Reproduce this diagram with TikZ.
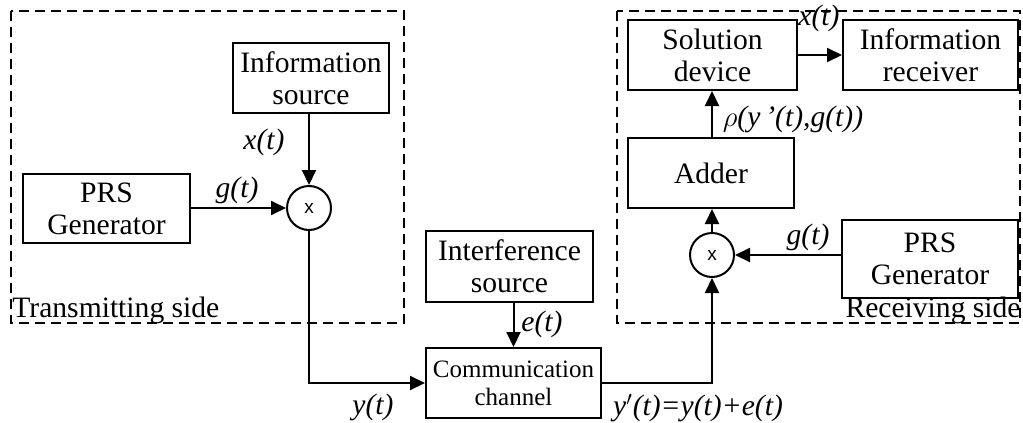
\documentclass[tikz,border=0pt]{standalone}
\usepackage{fontspec}
\setmainfont{Liberation Serif}
\newfontfamily\arialf{Liberation Sans}
\usetikzlibrary{arrows.meta}
\begin{document}
\begin{tikzpicture}[x=0.5pt,y=-0.5pt,
  box/.style={draw,line width=1pt,inner sep=0pt,align=center,font=\fontsize{14.8}{16}\selectfont},
  mult/.style={draw,circle,line width=1pt,inner sep=0pt,minimum size=22pt,font=\arialf\fontsize{9.5}{12}\selectfont},
  arr/.style={line width=1pt,-{Triangle[length=7.5pt,width=7pt]}},
  lab/.style={font=\fontsize{14.8}{16}\selectfont\itshape,inner sep=0pt},
  grp/.style={line width=0.7pt,dash pattern=on 5pt off 3pt}]
\useasboundingbox (0,0) rectangle (1023,423);
% dashed groups
\draw[grp] (11,11) rectangle (404,323);
\draw[grp] (617,11) rectangle (1020,323);
\node[font=\fontsize{14.8}{16}\selectfont,inner sep=0pt,anchor=base west] (tside) at (12,317) {Transmitting side};
\node[font=\fontsize{14.8}{16}\selectfont,inner sep=0pt,anchor=base east] (rside) at (1021,317) {Receiving side};
% blocks
\node[box,minimum width=78pt,minimum height=35pt] (info) at (311,78) {Information\\source};
\node[box,minimum width=83.5pt,minimum height=34.5pt] (prsL) at (106.5,208.5) {PRS\\Generator};
\node[mult] (c1) at (309,208) {x};
\node[box,minimum width=83.5pt,minimum height=35.5pt] (interf) at (509.5,266.5) {Interference\\source};
\node[box,minimum width=87.5pt,minimum height=35pt,font=\fontsize{12.5}{14}\selectfont] (chan) at (513.5,383) {Communication\\channel};
\node[box,minimum width=84.5pt,minimum height=35pt] (sol) at (712.5,55) {Solution\\device};
\node[box,minimum width=87.5pt,minimum height=35pt] (rec) at (930.5,55) {Information\\receiver};
\node[box,minimum width=83pt,minimum height=35pt] (adder) at (711,173) {Adder};
\node[mult] (c2) at (712,255) {x};
\node[box,minimum width=88pt,minimum height=39pt] (prsR) at (930,259) {PRS\\Generator};
% connectors
\draw[arr] (info.south -| c1) -- (c1.north);
\draw[arr] (prsL.east |- c1) -- (c1.west);
\draw[arr] (c1.south) |- (chan.west);
\draw[arr] (interf.south -| chan.north) -- (chan.north);
\draw[arr] (chan.east) -| (c2.south);
\draw[arr] (prsR.west |- c2) -- (c2.east);
\draw[arr] (c2.north) -- (c2.north |- adder.south);
\draw[arr] (adder.north -| c2) -- (sol.south -| c2);
\draw[arr] (sol.east) -- (rec.west);
% labels
\node[lab] (lx1) at (264,142) {x(t)};
\node[lab] (lg1) at (237,190) {g(t)};
\node[lab] (ly) at (373,407) {y(t)};
\node[lab] (le) at (542,324) {e(t)};
\node[lab] (lyp) at (698,408) {y$'$(t)=y(t)+e(t)};
\node[lab] (lg2) at (808,237) {g(t)};
\node[lab] (lrho) at (793,119) {$\rho$(y\,'(t),g(t))};
\node[lab] (lx2) at (819,18) {x(t)};
\end{tikzpicture}
\end{document}
